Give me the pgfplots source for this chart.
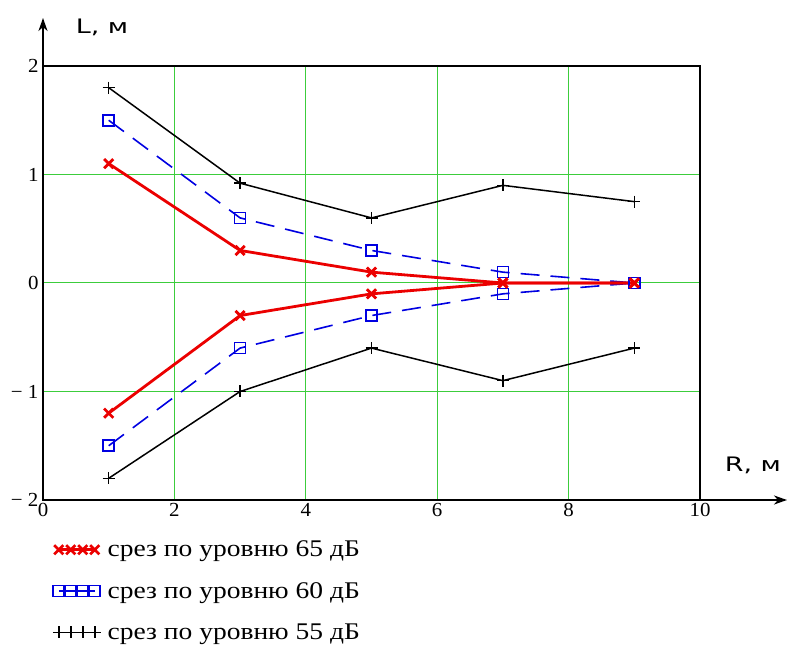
\documentclass[border=0pt]{standalone}
\usepackage{fontspec}
\setmainfont{Liberation Serif}
\newfontfamily\labfont{DejaVu Sans}
\usepackage{graphicx}
\usepackage{pgfplots}
\pgfplotsset{compat=1.18}
\usetikzlibrary{arrows.meta}
\definecolor{gridgreen}{RGB}{60,205,60}
\definecolor{myred}{RGB}{235,0,0}
\definecolor{myblue}{RGB}{0,0,225}
\newcommand\hs[1]{\hspace*{5bp}\scalebox{1.15}[1]{#1}}
\newcommand\htk[1]{\scalebox{1.05}[1]{#1}}
\begin{document}
\begin{tikzpicture}
\useasboundingbox (0,0) rectangle (795bp,648bp);
\begin{axis}[
  at={(43bp,148bp)}, anchor=south west,
  scale only axis, width=657bp, height=434bp,
  xmin=0, xmax=10, ymin=-2, ymax=2,
  xtick={0,2,4,6,8,10}, ytick={-2,-1,0,1,2},
  xticklabels={\htk{0},\htk{2},\htk{4},\htk{6},\htk{8},\htk{10}},
  yticklabels={\htk{− 2},\htk{− 1},\htk{0},\htk{1},\htk{2}},
  /pgf/number format/assume math mode=true,
  major tick length=0pt,
  tick label style={font=\fontsize{20}{22}\selectfont},
  yticklabel style={xshift=-1bp},
  grid=major, major grid style={gridgreen, line width=1bp},
  axis line style={black, line width=2bp},
  legend image code/.code={\draw[#1] plot coordinates {(3bp,0bp) (15bp,0bp) (27bp,0bp) (39bp,0bp)};},
  legend style={at={(axis description cs:0.01,-0.085)}, anchor=north west, draw=none, fill=none,
    font=\fontsize{24}{27}\selectfont, row sep=20bp, cells={anchor=west}},
  legend cell align=left,
]
\addlegendimage{myred, line width=2.8bp, mark=x, mark size=6.5bp, mark options={solid}}
\addlegendentry{\hs{срез по уровню 65 дБ}}
\addlegendimage{myblue, solid, line width=1.6bp, mark=square, mark size=5.5bp, mark options={solid}}
\addlegendentry{\hs{срез по уровню 60 дБ}}
\addlegendimage{black, line width=1.5bp, mark=+, mark size=6bp, mark options={solid}}
\addlegendentry{\hs{срез по уровню 55 дБ}}

\addplot[black, line width=1.5bp, mark=+, mark size=6bp, mark options={solid}, forget plot]
  coordinates {(1,1.8)(3,0.92)(5,0.6)(7,0.9)(9,0.75)};
\addplot[black, line width=1.5bp, mark=+, mark size=6bp, mark options={solid}, forget plot]
  coordinates {(1,-1.8)(3,-1.0)(5,-0.6)(7,-0.9)(9,-0.6)};
\addplot[myblue, line width=1.6bp, dash pattern=on 19bp off 11bp, mark=square, mark size=5.5bp, mark options={solid}, forget plot]
  coordinates {(1,1.5)(3,0.6)(5,0.3)(7,0.1)(9,0)};
\addplot[myblue, line width=1.6bp, dash pattern=on 19bp off 11bp, mark=square, mark size=5.5bp, mark options={solid}, forget plot]
  coordinates {(1,-1.5)(3,-0.6)(5,-0.3)(7,-0.1)(9,0)};
\addplot[myred, line width=2.8bp, mark=x, mark size=6.5bp, mark options={solid}, forget plot]
  coordinates {(1,1.1)(3,0.3)(5,0.1)(7,0)(9,0)};
\addplot[myred, line width=2.8bp, mark=x, mark size=6.5bp, mark options={solid}, forget plot]
  coordinates {(1,-1.2)(3,-0.3)(5,-0.1)(7,0)(9,0)};
\end{axis}
\draw[line width=2bp, -{Stealth[length=13bp, width=9bp, inset=4bp]}] (43bp,582bp) -- (43bp,630bp);
\draw[line width=2bp, -{Stealth[length=13bp, width=9bp, inset=4bp]}] (700bp,148bp) -- (787bp,148bp);
\node at (102bp,621bp) {\labfont\fontsize{20}{24}\selectfont\scalebox{1.35}[1]{L, м}};
\node at (753bp,183bp) {\labfont\fontsize{20}{24}\selectfont\scalebox{1.35}[1]{R, м}};
\end{tikzpicture}
\end{document}
